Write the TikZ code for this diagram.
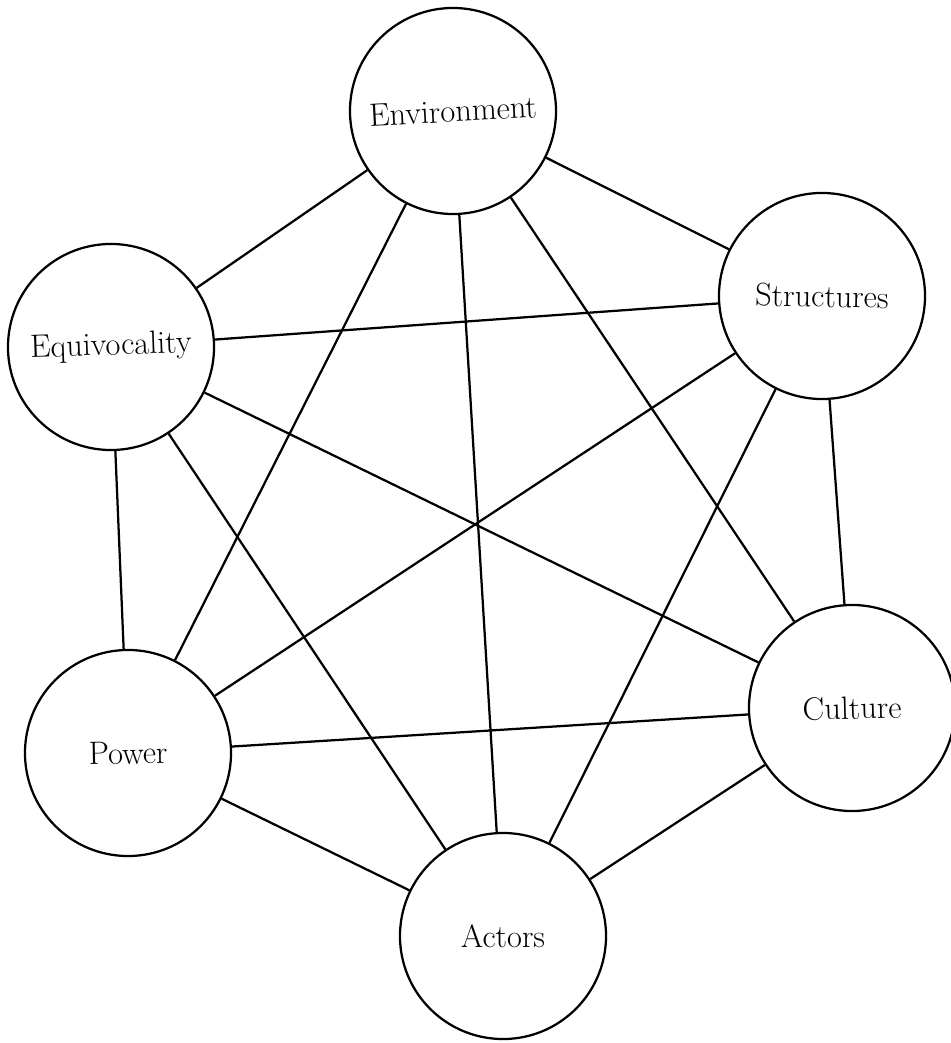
\documentclass[tikz,border=0pt]{standalone}
\begin{document}
\begin{tikzpicture}[x=0.025cm,y=-0.025cm,
  concept/.style={circle, draw, line width=1.6pt, minimum size=5.15cm,
    inner sep=0pt, font=\fontsize{23}{27}\selectfont},
  link/.style={line width=1.6pt}]
\useasboundingbox (0,0) rectangle (950,1043);
% the six concepts
\node[concept] (env) at (453,111) {\rotatebox{3}{Environment}};
\node[concept] (str) at (822,296) {\rotatebox{-1}{Structures}};
\node[concept] (equ) at (111,347) {\rotatebox{2}{Equivocality}};
\node[concept] (pow) at (128,753) {\rotatebox{1}{Power}};
\node[concept] (cul) at (852,708) {\rotatebox{1.5}{Culture}};
\node[concept] (act) at (503,936) {Actors};
% every concept is linked to every other one
\foreach \a/\b in {env/str, env/equ, env/pow, env/cul, env/act,
                   str/equ, str/pow, str/cul, str/act,
                   equ/pow, equ/cul, equ/act,
                   pow/cul, pow/act,
                   cul/act}
  \draw[link] (\a) -- (\b);
\end{tikzpicture}
\end{document}
